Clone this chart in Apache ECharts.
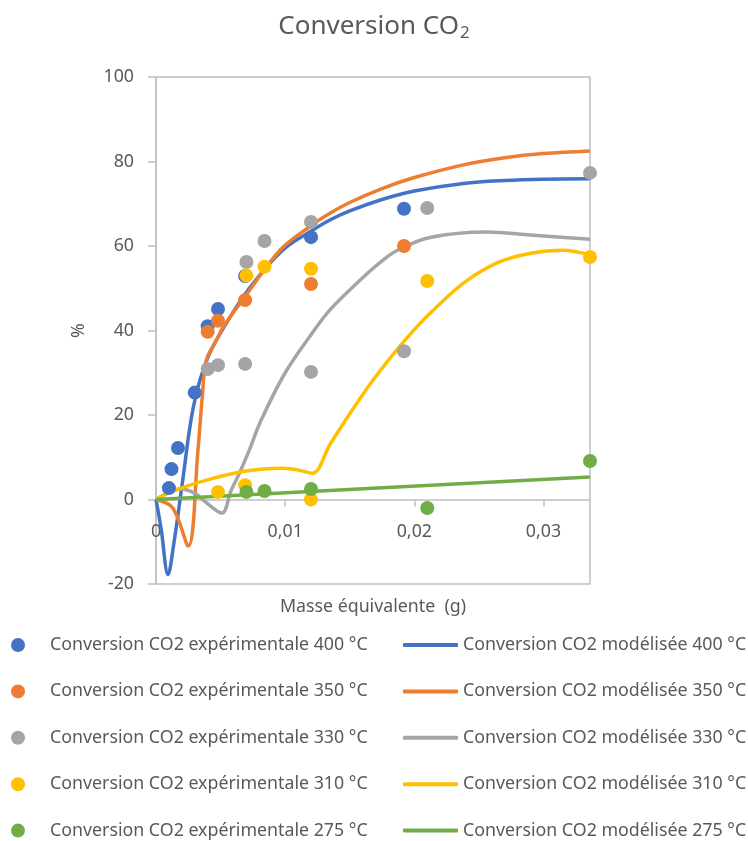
<!DOCTYPE html>
<html>
<head>
<meta charset="utf-8">
<script src="https://cdn.jsdelivr.net/npm/echarts@6/dist/echarts.min.js"></script>
<style>html,body{margin:0;padding:0;background:#fff}#c{width:748px;height:841px}</style>
</head>
<body>
<div id="c"></div>
<script>
// ---- Data ----
const temps = ['400', '350', '330', '310', '275'];
const colors = ['#4472C4', '#ED7D31', '#A5A5A5', '#FFC000', '#70AD47'];

// Experimental points [x (g), conversion %]
const exp400 = [[0.001, 2.7], [0.0012, 7.2], [0.0017, 12.2], [0.003, 25.3], [0.004, 41], [0.0048, 45.1], [0.0069, 52.9], [0.012, 62.1], [0.0192, 68.8]];
const exp350 = [[0.004, 39.7], [0.0048, 42.3], [0.0069, 47.2], [0.012, 51.0], [0.0192, 60.0]];
const exp330 = [[0.004, 30.9], [0.0048, 31.8], [0.0069, 32.1], [0.007, 56.2], [0.0084, 61.2], [0.012, 65.7], [0.012, 30.2], [0.0192, 35.1], [0.021, 69.0], [0.0336, 77.3]];
const exp310 = [[0.0048, 1.8], [0.0069, 3.4], [0.007, 53.0], [0.0084, 55.1], [0.012, 54.6], [0.012, 0.0], [0.021, 51.7], [0.0336, 57.4]];
const exp275 = [[0.007, 1.8], [0.0084, 2.0], [0.012, 2.5], [0.021, -2.0], [0.0336, 9.1]];

// Modelled curves [x (g), conversion %]
const mod400 = [[0, 0], [0.0004, -7], [0.00093, -17.8], [0.0014, -10], [0.002, 3], [0.0029, 22], [0.004, 33.5], [0.0055, 42], [0.0073, 50.3], [0.0098, 59], [0.012, 63.5], [0.0135, 66.2], [0.015, 68.3], [0.0175, 71], [0.02, 73], [0.0238, 74.8], [0.027, 75.5], [0.03, 75.8], [0.0336, 75.9]];
const mod350 = [[0, 0], [0.0013, -2], [0.0025, -11], [0.00325, 11.7], [0.0036, 25], [0.0039, 33], [0.0047, 37.8], [0.0052, 40.8], [0.0067, 47.2], [0.0096, 59], [0.012, 64.8], [0.0135, 67.8], [0.015, 70.3], [0.0175, 73.6], [0.02, 76.2], [0.0238, 79.2], [0.027, 80.9], [0.03, 81.9], [0.0336, 82.5]];
const mod330 = [[0, 0], [0.0019, 2.5], [0.003, 1.5], [0.0038, -0.5], [0.0051, -3.2], [0.0058, 2], [0.0065, 6.5], [0.0072, 11.5], [0.0081, 18.5], [0.01, 30], [0.012, 39], [0.0135, 45], [0.016, 52.5], [0.0175, 56.5], [0.0187, 59], [0.0212, 62], [0.0256, 63.3], [0.029, 62.6], [0.0336, 61.6]];
const mod310 = [[0, 0], [0.0013, 2], [0.0039, 4.6], [0.0065, 6.5], [0.0083, 7.2], [0.0098, 7.4], [0.011, 7.0], [0.0121, 6.2], [0.0135, 13.2], [0.015, 20.3], [0.0165, 27], [0.018, 33], [0.0195, 38.5], [0.0212, 44], [0.0238, 51.2], [0.0264, 56], [0.029, 58.3], [0.0315, 59], [0.0336, 57.9]];
const mod275 = [[0, 0], [0.0336, 5.3]];

const expSets = [exp400, exp350, exp330, exp310, exp275];
const modSets = [mod400, mod350, mod330, mod310, mod275];
const expNames = temps.map(t => 'Conversion CO2 expérimentale ' + t + ' °C');
const modNames = temps.map(t => 'Conversion CO2 modélisée ' + t + ' °C');

const yTicks = { min: -20, max: 100, step: 20 };
const xTicks = { min: 0, max: 0.0336, step: 0.01 };

// ---- Chart ----
const FONT = 'Noto Sans';
const TXT = '#595959';
const AX = '#BFBFBF';
const FS = 17.8;
const chart = echarts.init(document.getElementById('c'), null, { renderer: 'canvas' });

const series = [];
modSets.forEach((d, i) => {
  series.push({
    name: modNames[i], type: 'line', data: d, smooth: 0.35, symbol: 'none',
    lineStyle: { color: colors[i], width: 3.5 }, itemStyle: { color: colors[i] }, z: 2
  });
});
expSets.forEach((d, i) => {
  series.push({
    name: expNames[i], type: 'scatter', data: d, symbol: 'circle', symbolSize: 14,
    itemStyle: { color: colors[i], opacity: 1 }, z: 3 + i
  });
});

// move the x axis onto y = 0
const plotH = 841 - 77 - 257;
const zeroOffset = -plotH * (0 - yTicks.min) / (yTicks.max - yTicks.min);

chart.setOption({
  animation: false,
  backgroundColor: '#fff',
  textStyle: { fontFamily: FONT },
  title: {
    text: '{a|Conversion CO}{b|2}',
    left: 'center', top: 6,
    textStyle: { rich: {
      a: { fontFamily: FONT, fontSize: 26, color: TXT, fontWeight: 'normal' },
      b: { fontFamily: FONT, fontSize: 17, color: TXT, padding: [14, 0, 0, 1], fontWeight: 'normal' }
    } }
  },
  grid: { left: 156, right: 158, top: 77, bottom: 257, show: true, borderColor: AX, borderWidth: 1.5, backgroundColor: 'transparent' },
  legend: [
    {
      data: expNames, orient: 'vertical', left: 11, top: 636, padding: 0, itemWidth: 14, itemHeight: 14, itemGap: 28.4, icon: 'circle',
      textStyle: { fontFamily: FONT, fontSize: FS, color: TXT, lineHeight: 18, padding: [0, 0, 0, 20] }
    },
    {
      data: modNames, orient: 'vertical', left: 403, top: 636, padding: 0, itemWidth: 55, itemHeight: 4, itemGap: 28.4, icon: 'roundRect',
      textStyle: { fontFamily: FONT, fontSize: FS, color: TXT, lineHeight: 18 }
    }
  ],
  xAxis: {
    type: 'value', min: xTicks.min, max: xTicks.max, interval: xTicks.step,
    position: 'bottom', offset: zeroOffset,
    name: 'Masse équivalente  (g)', nameLocation: 'middle', nameGap: 98,
    nameTextStyle: { fontFamily: FONT, fontSize: FS, color: TXT },
    axisLine: { show: true, onZero: false, lineStyle: { color: AX, width: 1.5 } },
    axisTick: { show: true, length: 7, lineStyle: { color: AX, width: 1.5 } },
    splitLine: { show: false },
    axisLabel: {
      fontFamily: FONT, fontSize: FS, color: TXT, margin: 23, showMaxLabel: false,
      formatter: v => {
        const k = v / xTicks.step;
        if (Math.abs(k - Math.round(k)) > 1e-6) return '';
        return v === 0 ? '0' : (Math.round(k) * xTicks.step).toFixed(2).replace('.', ',');
      }
    }
  },
  yAxis: {
    type: 'value', min: yTicks.min, max: yTicks.max, interval: yTicks.step,
    name: '%', nameLocation: 'middle', nameGap: 68,
    nameTextStyle: { fontFamily: FONT, fontSize: FS, color: TXT },
    axisLine: { show: true, onZero: false, lineStyle: { color: AX, width: 1.5 } },
    axisTick: { show: true, length: 8, lineStyle: { color: AX, width: 1.5 } },
    splitLine: { show: false },
    axisLabel: { fontFamily: FONT, fontSize: FS, color: TXT, margin: 22 }
  },
  series: series
});
</script>
</body>
</html>
